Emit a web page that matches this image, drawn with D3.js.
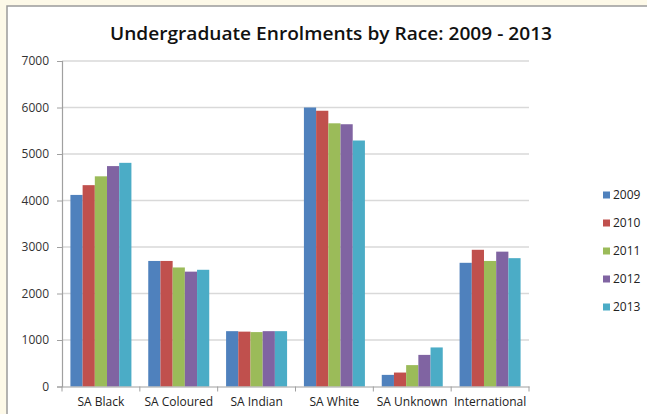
<!DOCTYPE html>
<html>
<head>
<meta charset="utf-8">
<script src="https://cdn.jsdelivr.net/npm/d3@7"></script>
<style>
  html, body { margin: 0; padding: 0; background: #fdf9e8; }
  svg { display: block; }
</style>
</head>
<body>
<svg id="chart" width="647" height="414"></svg>
<script>
// Undergraduate enrolments by race group, 2009–2013
const categories = ["SA Black", "SA Coloured", "SA Indian", "SA White", "SA Unknown", "International"];
const years = ["2009", "2010", "2011", "2012", "2013"];
const values2009 = [4120, 2700, 1190, 6000, 250, 2660];
const values2010 = [4330, 2700, 1180, 5930, 300, 2940];
const values2011 = [4520, 2560, 1170, 5660, 460, 2700];
const values2012 = [4740, 2470, 1190, 5640, 680, 2900];
const values2013 = [4810, 2510, 1190, 5290, 840, 2760];
const yTicks = [0, 1000, 2000, 3000, 4000, 5000, 6000, 7000];
const colors = ["#4f81bd", "#c0504d", "#9bbb59", "#8064a2", "#4bacc6"];

const seriesValues = [values2009, values2010, values2011, values2012, values2013];

const svg = d3.select("#chart");
const font = "'Open Sans', 'DejaVu Sans', sans-serif";

// chart area panel
svg.append("rect")
  .attr("x", 7).attr("y", 6).attr("width", 645).attr("height", 412)
  .attr("fill", "#ffffff").attr("stroke", "#9a9a9a").attr("stroke-width", 1.5);

const plot = { left: 62, right: 529, top: 61, bottom: 386.5 };

const x0 = d3.scaleBand().domain(categories).range([plot.left, plot.right]).paddingInner(0).paddingOuter(0);
const x1 = d3.scaleBand().domain(years).range([0, x0.bandwidth()]).paddingInner(0).paddingOuter(0.69);
const y = d3.scaleLinear().domain([0, 7000]).range([plot.bottom, plot.top]);
const color = d3.scaleOrdinal().domain(years).range(colors);

// gridlines
svg.append("g")
  .selectAll("line")
  .data(yTicks.filter(d => d > 0))
  .join("line")
  .attr("x1", plot.left).attr("x2", plot.right)
  .attr("y1", d => y(d)).attr("y2", d => y(d))
  .attr("stroke", "#d9d9d9").attr("stroke-width", 1.5);

// bars
const groups = svg.append("g")
  .selectAll("g")
  .data(categories)
  .join("g")
  .attr("transform", d => `translate(${x0(d)},0)`);

groups.selectAll("rect")
  .data((c, i) => years.map((yr, s) => ({ year: yr, value: seriesValues[s][i] })))
  .join("rect")
  .attr("x", d => x1(d.year))
  .attr("width", x1.bandwidth())
  .attr("y", d => y(d.value))
  .attr("height", d => y(0) - y(d.value))
  .attr("fill", d => color(d.year));

// y axis
const yAxis = svg.append("g")
  .attr("transform", `translate(${plot.left},0)`)
  .call(d3.axisLeft(y).tickValues(yTicks).tickSize(5).tickPadding(8).tickFormat(d3.format("d")));
yAxis.select(".domain").attr("stroke", "#a0a0a0").attr("stroke-width", 1.2);
yAxis.selectAll(".tick line").attr("stroke", "#a0a0a0");
yAxis.selectAll("text").attr("fill", "#333").style("font-family", font).style("font-size", "12px");

// x axis
const xAxis = svg.append("g")
  .attr("transform", `translate(0,${plot.bottom})`)
  .call(d3.axisBottom(x0).tickSize(0).tickPadding(11));
xAxis.select(".domain").attr("stroke", "#a0a0a0").attr("stroke-width", 1.2);
xAxis.selectAll("text").attr("fill", "#222").style("font-family", font).style("font-size", "12px");
// category divider ticks
xAxis.append("g")
  .selectAll("line")
  .data(categories.map(c => x0(c)).concat([plot.right]))
  .join("line")
  .attr("x1", d => d).attr("x2", d => d)
  .attr("y1", 0).attr("y2", 5)
  .attr("stroke", "#a0a0a0");

// title
svg.append("text")
  .attr("x", 331).attr("y", 40)
  .attr("text-anchor", "middle")
  .attr("textLength", 442).attr("lengthAdjust", "spacingAndGlyphs")
  .style("font-family", font).style("font-size", "18px").style("font-weight", "600")
  .attr("fill", "#111")
  .text("Undergraduate Enrolments by Race: 2009 - 2013");

// legend
const legend = svg.append("g")
  .selectAll("g")
  .data(years)
  .join("g")
  .attr("transform", (d, i) => `translate(603,${195 + i * 28})`);
legend.append("rect")
  .attr("x", 0).attr("y", -3.5).attr("width", 7).attr("height", 7)
  .attr("fill", d => color(d));
legend.append("text")
  .attr("x", 10).attr("y", 0).attr("dy", "0.35em")
  .style("font-family", font).style("font-size", "12px")
  .attr("fill", "#222")
  .text(d => d);
</script>
</body>
</html>
